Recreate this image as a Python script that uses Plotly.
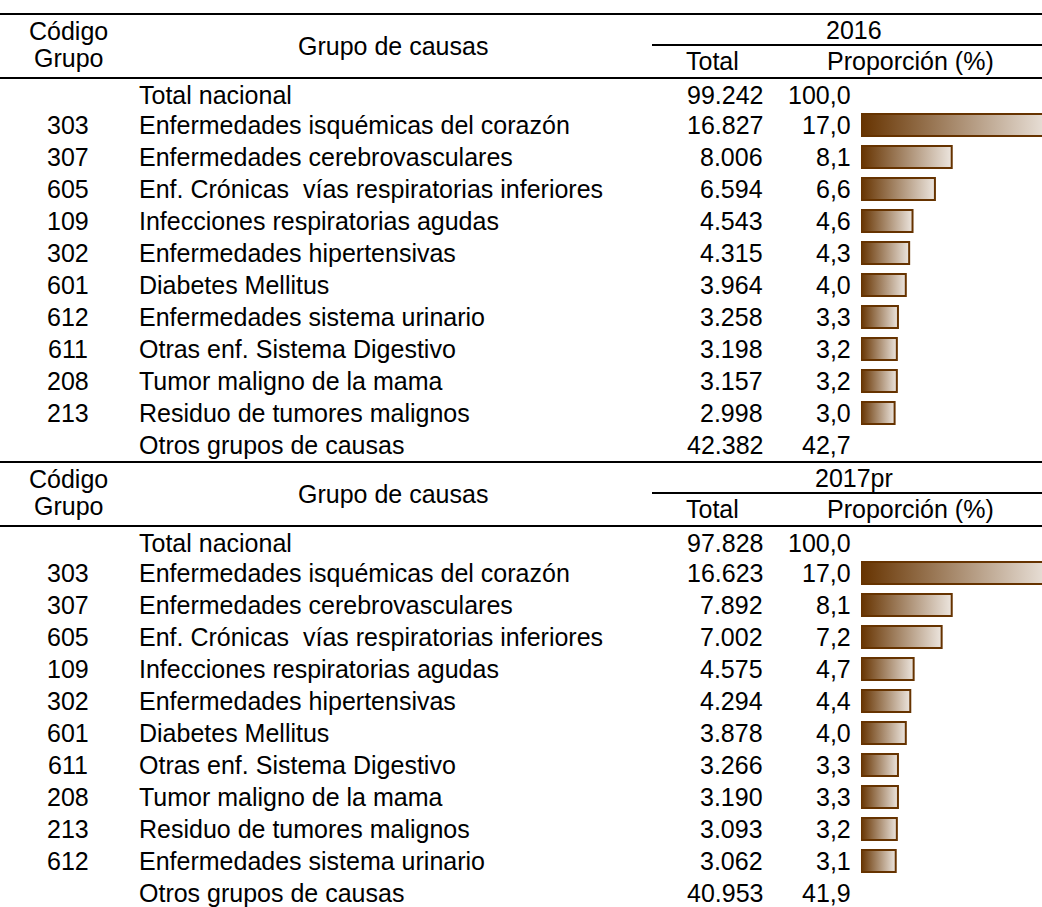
import plotly.graph_objects as go

# 2016
codes_2016 = ["", "303", "307", "605", "109", "302", "601", "612", "611", "208", "213", ""]
names_2016 = ["Total nacional", "Enfermedades isquémicas del corazón", "Enfermedades cerebrovasculares",
              "Enf. Crónicas  vías respiratorias inferiores", "Infecciones respiratorias agudas",
              "Enfermedades hipertensivas", "Diabetes Mellitus", "Enfermedades sistema urinario",
              "Otras enf. Sistema Digestivo", "Tumor maligno de la mama", "Residuo de tumores malignos",
              "Otros grupos de causas"]
totals_2016 = [99242, 16827, 8006, 6594, 4543, 4315, 3964, 3258, 3198, 3157, 2998, 42382]
props_2016 = [100.0, 17.0, 8.1, 6.6, 4.6, 4.3, 4.0, 3.3, 3.2, 3.2, 3.0, 42.7]

# 2017pr
codes_2017 = ["", "303", "307", "605", "109", "302", "601", "611", "208", "213", "612", ""]
names_2017 = ["Total nacional", "Enfermedades isquémicas del corazón", "Enfermedades cerebrovasculares",
              "Enf. Crónicas  vías respiratorias inferiores", "Infecciones respiratorias agudas",
              "Enfermedades hipertensivas", "Diabetes Mellitus", "Otras enf. Sistema Digestivo",
              "Tumor maligno de la mama", "Residuo de tumores malignos", "Enfermedades sistema urinario",
              "Otros grupos de causas"]
totals_2017 = [97828, 16623, 7892, 7002, 4575, 4294, 3878, 3266, 3190, 3093, 3062, 40953]
props_2017 = [100.0, 17.0, 8.1, 7.2, 4.7, 4.4, 4.0, 3.3, 3.3, 3.2, 3.1, 41.9]

years = ["2016", "2017pr"]

W, H = 1042, 907
FONT = "Arial, Liberation Sans, sans-serif"
FS = 25
BROWN = "#663300"
PX_PER_UNIT = 11.2
BAR_X0 = 861


def fmt_int(v):
    return f"{v:,}".replace(",", ".")


def fmt_dec(v):
    return f"{v:.1f}".replace(".", ",")


fig = go.Figure()
annotations = []
shapes = []


def txt(x, y, s, anchor):
    annotations.append(dict(x=x, y=y, xref="x", yref="y", text=s, showarrow=False,
                            xanchor=anchor, yanchor="middle",
                            font=dict(family=FONT, size=FS, color="black")))


def hline(x0, x1, y):
    shapes.append(dict(type="line", xref="x", yref="y", x0=x0, x1=x1, y0=y, y1=y,
                       line=dict(color="black", width=2)))


sections = [(codes_2016, names_2016, totals_2016, props_2016),
            (codes_2017, names_2017, totals_2017, props_2017)]

for s, (codes, names, totals, props) in enumerate(sections):
    off = s * 448
    # header
    hline(0, W, 14 + off)
    hline(652, W, 45 + off)
    hline(0, W, 78 + off)
    txt(68, 31 + off, "Código", "center")
    txt(68, 58 + off, "Grupo", "center")
    txt(393, 46 + off, "Grupo de causas", "center")
    txt(854, 30 + off, years[s], "center")
    txt(712, 61 + off, "Total", "center")
    txt(910, 61 + off, "Proporción (%)", "center")

    for i in range(len(names)):
        y = 125 + (i - 1) * 32 + off
        if i == 0:
            y = 95 + off
        txt(67.5, y, codes[i], "center")
        txt(137, y, names[i], "left")
        txt(765, y, fmt_int(totals[i]), "right")
        txt(853, y, fmt_dec(props[i]), "right")
        if 0 < i < len(names) - 1:
            v = props[i]
            fig.add_trace(go.Scatter(
                x=[0, v, v, 0, 0], y=[y - 11, y - 11, y + 11, y + 11, y - 11],
                xaxis="x2", yaxis="y", mode="lines", fill="toself",
                fillgradient=dict(type="horizontal",
                                  colorscale=[[0, BROWN], [1, "#ece5de"]]),
                line=dict(color=BROWN, width=2), hoverinfo="skip", showlegend=False))

fig.update_layout(
    width=W, height=H,
    margin=dict(l=0, r=0, t=0, b=0),
    paper_bgcolor="white", plot_bgcolor="white",
    xaxis=dict(range=[0, W], domain=[0, 1], visible=False, fixedrange=True),
    xaxis2=dict(range=[0, (W - BAR_X0) / PX_PER_UNIT], domain=[BAR_X0 / W, 1],
                anchor="y", visible=False, fixedrange=True),
    yaxis=dict(range=[H, 0], domain=[0, 1], visible=False, fixedrange=True),
    annotations=annotations,
    shapes=shapes,
    showlegend=False,
)

fig.write_html("out.html", config={"displayModeBar": False},
               post_script="document.body.style.margin='0';document.body.style.overflow='hidden';")
